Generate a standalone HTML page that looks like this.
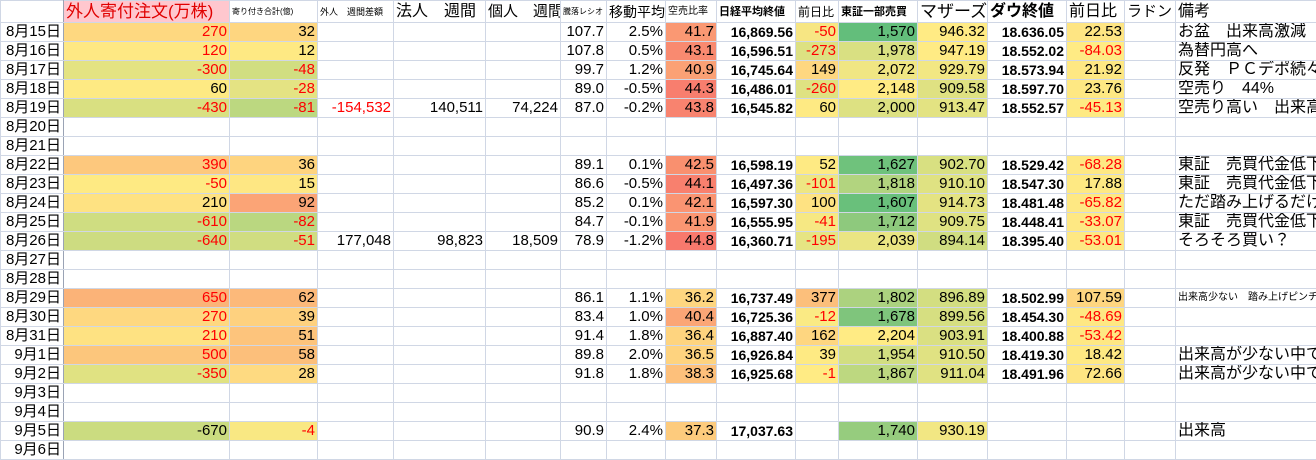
<!DOCTYPE html>
<html><head><meta charset="utf-8"><style>
body{margin:0;width:1316px;height:449px;overflow:hidden;background:#fff;font-family:"Liberation Sans","Noto Sans CJK JP",sans-serif;}
table{border-collapse:collapse;table-layout:fixed;width:1316px;}
td{border:1px solid #d0d7e5;height:18px;padding:0 2px;font-size:15px;text-align:right;white-space:nowrap;overflow:hidden;line-height:18px;color:#000;}
tr.h td{height:21px;font-size:15px;text-align:left;padding:0 2px;}
td.a{border-right:1px solid #9aa3b5;}
td.b{font-weight:bold;font-size:14px;}
td.t{text-align:left;font-size:16px;}
.r{color:#f00;}
</style></head><body>
<table>
<colgroup><col style="width:63px"><col style="width:166px"><col style="width:88px"><col style="width:76px"><col style="width:92px"><col style="width:75px"><col style="width:46px"><col style="width:59px"><col style="width:51px"><col style="width:79px"><col style="width:43px"><col style="width:79px"><col style="width:70px"><col style="width:79px"><col style="width:58px"><col style="width:51px"><col style="width:141px"></colgroup>
<tr class="h"><td class="a"></td><td style="background:#ffc7ce;color:#e00000;font-size:17px">外人寄付注文(万株)</td><td style="font-size:8px">寄り付き合計(億)</td><td style="font-size:9px">外人　週間差額</td><td style="font-size:16px">法人　週間</td><td style="font-size:15px">個人　週間</td><td style="font-size:8px">騰落レシオ</td><td style="font-size:14px">移動平均</td><td style="font-size:10px">空売比率</td><td style="font-size:11px;font-weight:bold">日経平均終値</td><td style="font-size:12px">前日比</td><td style="font-size:11px;font-weight:bold">東証一部売買</td><td style="font-size:17px">マザーズ</td><td style="font-size:16px;font-weight:bold">ダウ終値</td><td style="font-size:16px">前日比</td><td style="font-size:15px">ラドン</td><td style="font-size:16px">備考</td></tr>
<tr><td class="a">8月15日</td><td class="r" style="background:#fed880">270</td><td style="background:#fed680">32</td><td></td><td></td><td></td><td>107.7</td><td>2.5%</td><td style="background:#fa9873">41.7</td><td class="b">16,869.56</td><td class="r" style="background:#f7e683">-50</td><td style="background:#63be7b">1,570</td><td style="background:#ffeb84">946.32</td><td class="b">18.636.05</td><td style="background:#fee583">22.53</td><td></td><td class="t">お盆　出来高激減</td></tr>
<tr><td class="a">8月16日</td><td class="r" style="background:#fee883">120</td><td style="background:#fee983">12</td><td></td><td></td><td></td><td>107.8</td><td>0.5%</td><td style="background:#f98a70">43.1</td><td class="b">16,596.51</td><td class="r" style="background:#dde182">-273</td><td style="background:#d9e082">1,978</td><td style="background:#ffeb84">947.19</td><td class="b">18.552.02</td><td class="r" style="background:#ffeb84">-84.03</td><td></td><td class="t">為替円高へ</td></tr>
<tr><td class="a">8月17日</td><td class="r" style="background:#e4e382">-300</td><td class="r" style="background:#d1de81">-48</td><td></td><td></td><td></td><td>99.7</td><td>1.2%</td><td style="background:#fba175">40.9</td><td class="b">16,745.64</td><td style="background:#fed780">149</td><td style="background:#f0e683">2,072</td><td style="background:#f2e783">929.79</td><td class="b">18.573.94</td><td style="background:#fee883">21.92</td><td></td><td class="t">反発　ＰＣデポ続々悪</td></tr>
<tr><td class="a">8月18日</td><td style="background:#feea83">60</td><td class="r" style="background:#e4e383">-28</td><td></td><td></td><td></td><td>89.0</td><td>-0.5%</td><td style="background:#f87e6e">44.3</td><td class="b">16,486.01</td><td class="r" style="background:#dfe282">-260</td><td style="background:#ffeb84">2,148</td><td style="background:#dfe182">909.58</td><td class="b">18.597.70</td><td style="background:#fee883">23.76</td><td></td><td class="t">空売り　44%</td></tr>
<tr><td class="a">8月19日</td><td class="r" style="background:#d9e081">-430</td><td class="r" style="background:#bcd880">-81</td><td class="r">-154,532</td><td>140,511</td><td>74,224</td><td>87.0</td><td>-0.2%</td><td style="background:#f8836f">43.8</td><td class="b">16,545.82</td><td style="background:#feea83">60</td><td style="background:#dde182">2,000</td><td style="background:#e3e382">913.47</td><td class="b">18.552.57</td><td class="r" style="background:#feea83">-45.13</td><td></td><td class="t">空売り高い　出来高も</td></tr>
<tr><td class="a">8月20日</td><td></td><td></td><td></td><td></td><td></td><td></td><td></td><td></td><td></td><td></td><td></td><td></td><td></td><td></td><td></td><td></td></tr>
<tr><td class="a">8月21日</td><td></td><td></td><td></td><td></td><td></td><td></td><td></td><td></td><td></td><td></td><td></td><td></td><td></td><td></td><td></td><td></td></tr>
<tr><td class="a">8月22日</td><td class="r" style="background:#fdc87d">390</td><td style="background:#fed47f">36</td><td></td><td></td><td></td><td>89.1</td><td>0.1%</td><td style="background:#f9906f">42.5</td><td class="b">16,598.19</td><td style="background:#feea83">52</td><td style="background:#6fc27c">1,627</td><td style="background:#d8e081">902.70</td><td class="b">18.529.42</td><td class="r" style="background:#fee883">-68.28</td><td></td><td class="t">東証　売買代金低下</td></tr>
<tr><td class="a">8月23日</td><td class="r" style="background:#feea83">-50</td><td style="background:#fee783">15</td><td></td><td></td><td></td><td>86.6</td><td>-0.5%</td><td style="background:#f8806e">44.1</td><td class="b">16,497.36</td><td class="r" style="background:#eee683">-101</td><td style="background:#b2d47f">1,818</td><td style="background:#dfe282">910.10</td><td class="b">18.547.30</td><td style="background:#fee983">17.88</td><td></td><td class="t">東証　売買代金低下</td></tr>
<tr><td class="a">8月24日</td><td style="background:#fee282">210</td><td style="background:#fba476">92</td><td></td><td></td><td></td><td>85.2</td><td>0.1%</td><td style="background:#fa9472">42.1</td><td class="b">16,597.30</td><td style="background:#fee282">100</td><td style="background:#69c07b">1,607</td><td style="background:#e4e382">914.73</td><td class="b">18.481.48</td><td class="r" style="background:#fee883">-65.82</td><td></td><td class="t">ただ踏み上げるだけの</td></tr>
<tr><td class="a">8月25日</td><td class="r" style="background:#cfdd81">-610</td><td class="r" style="background:#bad780">-82</td><td></td><td></td><td></td><td>84.7</td><td>-0.1%</td><td style="background:#fa9672">41.9</td><td class="b">16,555.95</td><td class="r" style="background:#f6e883">-41</td><td style="background:#8ec97d">1,712</td><td style="background:#dfe282">909.75</td><td class="b">18.448.41</td><td class="r" style="background:#fee883">-33.07</td><td></td><td class="t">東証　売買代金低下</td></tr>
<tr><td class="a">8月26日</td><td class="r" style="background:#cddc81">-640</td><td class="r" style="background:#d0dd81">-51</td><td>177,048</td><td>98,823</td><td>18,509</td><td>78.9</td><td>-1.2%</td><td style="background:#f8796d">44.8</td><td class="b">16,360.71</td><td class="r" style="background:#e6e483">-195</td><td style="background:#eae583">2,039</td><td style="background:#d0dd81">894.14</td><td class="b">18.395.40</td><td class="r" style="background:#fee883">-53.01</td><td></td><td class="t">そろそろ買い？</td></tr>
<tr><td class="a">8月27日</td><td></td><td></td><td></td><td></td><td></td><td></td><td></td><td></td><td></td><td></td><td></td><td></td><td></td><td></td><td></td><td></td></tr>
<tr><td class="a">8月28日</td><td></td><td></td><td></td><td></td><td></td><td></td><td></td><td></td><td></td><td></td><td></td><td></td><td></td><td></td><td></td><td></td></tr>
<tr><td class="a">8月29日</td><td class="r" style="background:#fbb378">650</td><td style="background:#fcb97a">62</td><td></td><td></td><td></td><td>86.1</td><td>1.1%</td><td style="background:#fed680">36.2</td><td class="b">16,737.49</td><td style="background:#fcbf7b">377</td><td style="background:#acd27f">1,802</td><td style="background:#d3de81">896.89</td><td class="b">18.502.99</td><td style="background:#fed680">107.59</td><td></td><td class="t" style="font-size:10px">出来高少ない　踏み上げピンチ</td></tr>
<tr><td class="a">8月30日</td><td class="r" style="background:#fed880">270</td><td style="background:#fed17f">39</td><td></td><td></td><td></td><td>83.4</td><td>1.0%</td><td style="background:#fba676">40.4</td><td class="b">16,725.36</td><td class="r" style="background:#faea84">-12</td><td style="background:#7fc57c">1,678</td><td style="background:#d6df81">899.56</td><td class="b">18.454.30</td><td class="r" style="background:#fee883">-48.69</td><td></td><td></td></tr>
<tr><td class="a">8月31日</td><td class="r" style="background:#fee282">210</td><td style="background:#fdc47c">51</td><td></td><td></td><td></td><td>91.4</td><td>1.8%</td><td style="background:#fed47f">36.4</td><td class="b">16,887.40</td><td style="background:#fed680">162</td><td style="background:#ffeb84">2,204</td><td style="background:#dae082">903.91</td><td class="b">18.400.88</td><td class="r" style="background:#fee883">-53.42</td><td></td><td></td></tr>
<tr><td class="a">9月1日</td><td class="r" style="background:#fcc67c">500</td><td style="background:#fcbf7b">58</td><td></td><td></td><td></td><td>89.8</td><td>2.0%</td><td style="background:#fed37f">36.5</td><td class="b">16,926.84</td><td style="background:#feea83">39</td><td style="background:#d2de81">1,954</td><td style="background:#e0e282">910.50</td><td class="b">18.419.30</td><td style="background:#fee983">18.42</td><td></td><td class="t">出来高が少ない中での</td></tr>
<tr><td class="a">9月2日</td><td class="r" style="background:#e0e282">-350</td><td style="background:#feda81">28</td><td></td><td></td><td></td><td>91.8</td><td>1.8%</td><td style="background:#fdc07b">38.3</td><td class="b">16,925.68</td><td class="r" style="background:#ffeb84">-1</td><td style="background:#bdd880">1,867</td><td style="background:#e0e282">911.04</td><td class="b">18.491.96</td><td style="background:#fee583">72.66</td><td></td><td class="t">出来高が少ない中での</td></tr>
<tr><td class="a">9月3日</td><td></td><td></td><td></td><td></td><td></td><td></td><td></td><td></td><td></td><td></td><td></td><td></td><td></td><td></td><td></td><td></td></tr>
<tr><td class="a">9月4日</td><td></td><td></td><td></td><td></td><td></td><td></td><td></td><td></td><td></td><td></td><td></td><td></td><td></td><td></td><td></td><td></td></tr>
<tr><td class="a">9月5日</td><td style="background:#cbdc80">-670</td><td class="r" style="background:#f9e883">-4</td><td></td><td></td><td></td><td>90.9</td><td>2.4%</td><td style="background:#fdcb7d">37.3</td><td class="b">17,037.63</td><td></td><td style="background:#96cc7e">1,740</td><td style="background:#f2e783">930.19</td><td></td><td></td><td></td><td class="t">出来高</td></tr>
<tr><td class="a">9月6日</td><td></td><td></td><td></td><td></td><td></td><td></td><td></td><td></td><td></td><td></td><td></td><td></td><td></td><td></td><td></td><td></td></tr>
</table>
</body></html>
